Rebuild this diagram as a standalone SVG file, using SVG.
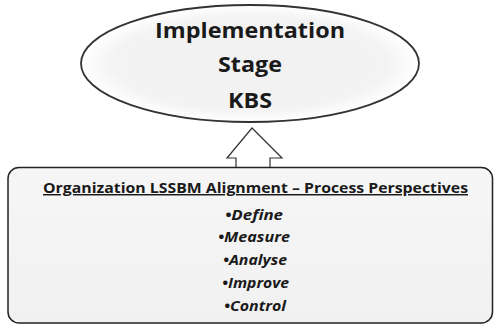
<svg xmlns="http://www.w3.org/2000/svg" width="494" height="325" viewBox="0 0 494 325">
  <defs>
    <radialGradient id="ovalFill" cx="0.5" cy="0.5" r="0.5">
      <stop offset="0" stop-color="#f1f1f1"/>
      <stop offset="0.8" stop-color="#f3f3f3"/>
      <stop offset="1" stop-color="#ffffff"/>
    </radialGradient>
    <linearGradient id="boxFill" x1="0" y1="0" x2="0" y2="1">
      <stop offset="0" stop-color="#f6f6f6"/>
      <stop offset="1" stop-color="#f1f1f1"/>
    </linearGradient>
  </defs>
  <style>
    .title { font-family: "Open Sans", "Liberation Sans", sans-serif; font-weight: bold; font-size: 22px; fill: #1a1a1a; text-anchor: middle; }
    .head { font-family: "Open Sans", "Liberation Sans", sans-serif; font-weight: bold; font-size: 14.5px; fill: #1a1a1a; text-anchor: middle; text-decoration: underline; }
    .item { font-family: "Open Sans", "Liberation Sans", sans-serif; font-weight: bold; font-style: italic; font-size: 13.5px; fill: #1a1a1a; text-anchor: middle; }
  </style>
  <rect width="494" height="325" fill="#ffffff"/>

  <!-- Top oval: implementation stage -->
  <g id="stage">
    <ellipse cx="250" cy="63.5" rx="169" ry="58.5" fill="url(#ovalFill)" stroke="#333333" stroke-width="1.8"/>
    <text class="title" x="250" y="38" textLength="190" lengthAdjust="spacingAndGlyphs">Implementation</text>
    <text class="title" x="250" y="72" textLength="64" lengthAdjust="spacingAndGlyphs">Stage</text>
    <text class="title" x="250" y="108" textLength="44" lengthAdjust="spacingAndGlyphs">KBS</text>
  </g>

  <!-- Hollow block arrow pointing up -->
  <g id="connectors">
    <path d="M236,168 L236,158 L227,158 L252,128 L282,158 L270,158 L270,168" fill="#ffffff" stroke="#333333" stroke-width="1.2" stroke-linejoin="miter"/>
  </g>

  <!-- Bottom box: process perspectives -->
  <g id="perspectives">
    <rect x="8" y="167.5" width="484.5" height="155.5" rx="11" ry="11" fill="url(#boxFill)" stroke="#222222" stroke-width="1.5"/>
    <text class="head" x="255.5" y="193" textLength="425" lengthAdjust="spacingAndGlyphs">Organization LSSBM Alignment – Process Perspectives</text>
    <text class="item" x="254" y="220" textLength="58" lengthAdjust="spacingAndGlyphs">•Define</text>
    <text class="item" x="254" y="242" textLength="72" lengthAdjust="spacingAndGlyphs">•Measure</text>
    <text class="item" x="255" y="265" textLength="64" lengthAdjust="spacingAndGlyphs">•Analyse</text>
    <text class="item" x="255.5" y="288" textLength="67" lengthAdjust="spacingAndGlyphs">•Improve</text>
    <text class="item" x="255" y="311" textLength="62" lengthAdjust="spacingAndGlyphs">•Control</text>
  </g>
</svg>
